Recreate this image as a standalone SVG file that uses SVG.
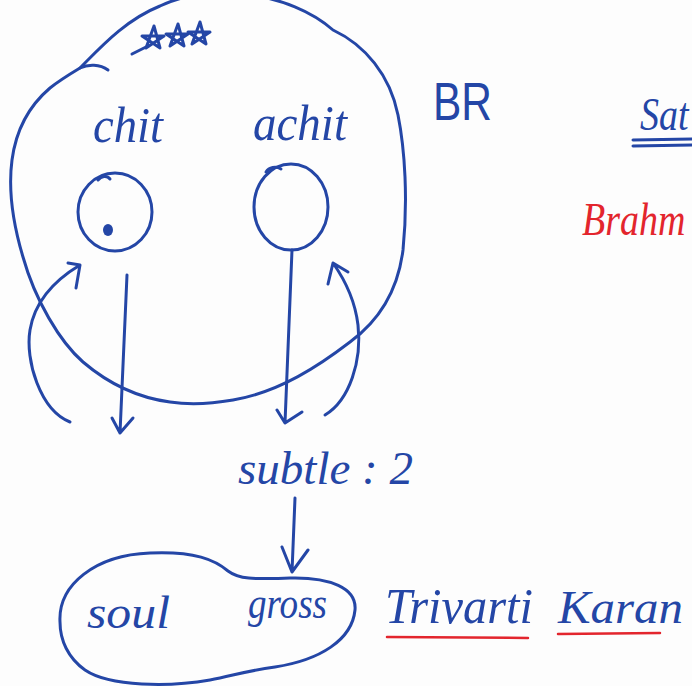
<svg xmlns="http://www.w3.org/2000/svg" width="692" height="686" viewBox="0 0 692 686">
  <defs>
    <style>
      .ink { fill: none; stroke: #2446a6; stroke-width: 3; stroke-linecap: round; stroke-linejoin: round; }
      .red { fill: none; stroke: #e3252d; stroke-width: 2.5; stroke-linecap: round; }
      .hand { font-family: "Liberation Serif", "DejaVu Serif", serif; font-style: italic; fill: #2446a6; }
      .print { font-family: "Liberation Sans", "DejaVu Sans", sans-serif; fill: #2446a6; }
      .redtext { font-family: "Liberation Serif", "DejaVu Serif", serif; font-style: italic; fill: #e3252d; }
    </style>
  </defs>

  <rect width="692" height="686" fill="#fdfdfd"/>

  <!-- Brahman: the large enclosing loop -->
  <g id="br">
    <path class="ink" d="M 80,68 C 100,48 125,20 160,6 C 210,-18 290,-8 333,30 C 365,45 390,75 398,115 C 405,150 408,200 403,250 C 398,290 380,320 350,342 C 320,365 280,392 233,400 C 210,404 190,405 170,402 C 140,398 110,385 83,362 C 60,342 35,300 23,257 C 12,220 8,190 12,160 C 16,130 30,105 50,88 C 60,80 70,74 80,68 Z"/>
    <!-- barb on the loop -->
    <path class="ink" d="M 80,68 C 88,64 100,64 108,70"/>
    <!-- star marks -->
    <path class="ink" stroke-width="3" d="M 132,54 L 146,47"/>
    <path class="ink" stroke-width="3" d="M 154,26 L 146,48 L 164,36 L 142,36 L 160,48 Z"/>
    <path class="ink" stroke-width="3" d="M 178,24 L 170,46 L 188,34 L 166,34 L 184,46 Z"/>
    <path class="ink" stroke-width="3" d="M 200,22 L 192,44 L 210,32 L 188,32 L 206,44 Z"/>
    <text class="print" x="433" y="120" font-size="54" textLength="59" lengthAdjust="spacingAndGlyphs">BR</text>
  </g>

  <!-- chit -->
  <g id="chit">
    <text class="hand" x="93" y="142" font-size="50" textLength="70" lengthAdjust="spacingAndGlyphs">chit</text>
    <ellipse class="ink" cx="115" cy="212" rx="37" ry="39"/>
    <path class="ink" stroke-width="4" d="M 98,180 C 101,176 107,175 110,179"/>
    <ellipse cx="108" cy="230" rx="5" ry="6" fill="#2446a6"/>
  </g>

  <!-- achit -->
  <g id="achit">
    <text class="hand" x="253" y="140" font-size="50" textLength="94" lengthAdjust="spacingAndGlyphs">achit</text>
    <ellipse class="ink" cx="291" cy="207" rx="37" ry="43"/>
    <path class="ink" stroke-width="4" d="M 266,172 C 269,167 276,166 281,169"/>
  </g>

  <!-- subtle state -->
  <g id="subtle">
    <text class="hand" x="238" y="484" font-size="46" textLength="175" lengthAdjust="spacingAndGlyphs">subtle : 2</text>
  </g>

  <!-- soul / gross -->
  <g id="soul-gross">
    <path class="ink" d="M 60,622 C 58,585 95,555 150,553 C 195,551 215,560 228,571 C 240,580 255,579 290,578 C 330,577 357,588 355,610 C 352,640 320,660 275,667 C 245,671 232,676 210,680 C 170,687 110,687 85,670 C 68,658 60,640 60,622 Z"/>
    <text class="hand" x="87" y="628" font-size="46" textLength="83" lengthAdjust="spacingAndGlyphs">soul</text>
    <text class="hand" x="248" y="618" font-size="44" textLength="79" lengthAdjust="spacingAndGlyphs">gross</text>
  </g>

  <!-- side labels -->
  <g id="trivarti-karan">
    <text class="hand" x="385" y="623" font-size="50" textLength="148" lengthAdjust="spacingAndGlyphs">Trivarti</text>
    <text class="hand" x="558" y="623" font-size="46" textLength="125" lengthAdjust="spacingAndGlyphs">Karan</text>
    <path class="red" d="M 387,637 L 528,638"/>
    <path class="red" d="M 558,634 L 660,633"/>
  </g>

  <g id="sat">
    <text class="hand" transform="translate(640,130) scale(1,1.2)" x="0" y="0" font-size="38">Sat</text>
    <path class="ink" stroke-width="2.5" d="M 633,140 L 692,139 M 633,146 L 692,145"/>
  </g>

  <g id="brahman">
    <text class="redtext" transform="translate(582,235) scale(1,1.2)" x="0" y="0" font-size="38">Brahm</text>
  </g>

  <!-- connectors -->
  <g id="connectors">
    <!-- chit down -->
    <path class="ink" d="M 127,275 L 120,433 M 112,418 L 120,433 L 133,418"/>
    <!-- achit down -->
    <path class="ink" d="M 292,250 L 285,423 M 277,410 L 285,423 L 302,412"/>
    <!-- left return loop -->
    <path class="ink" d="M 70,422 C 40,410 25,360 30,330 C 35,300 55,280 80,265 M 68,263 L 80,265 L 76,288"/>
    <!-- right return loop -->
    <path class="ink" d="M 325,415 C 350,400 362,360 358,325 C 355,300 345,280 333,263 M 328,284 L 333,263 L 348,272"/>
    <!-- subtle to gross -->
    <path class="ink" d="M 295,498 L 292,572 M 282,547 L 292,572 L 308,550"/>
  </g>
</svg>
